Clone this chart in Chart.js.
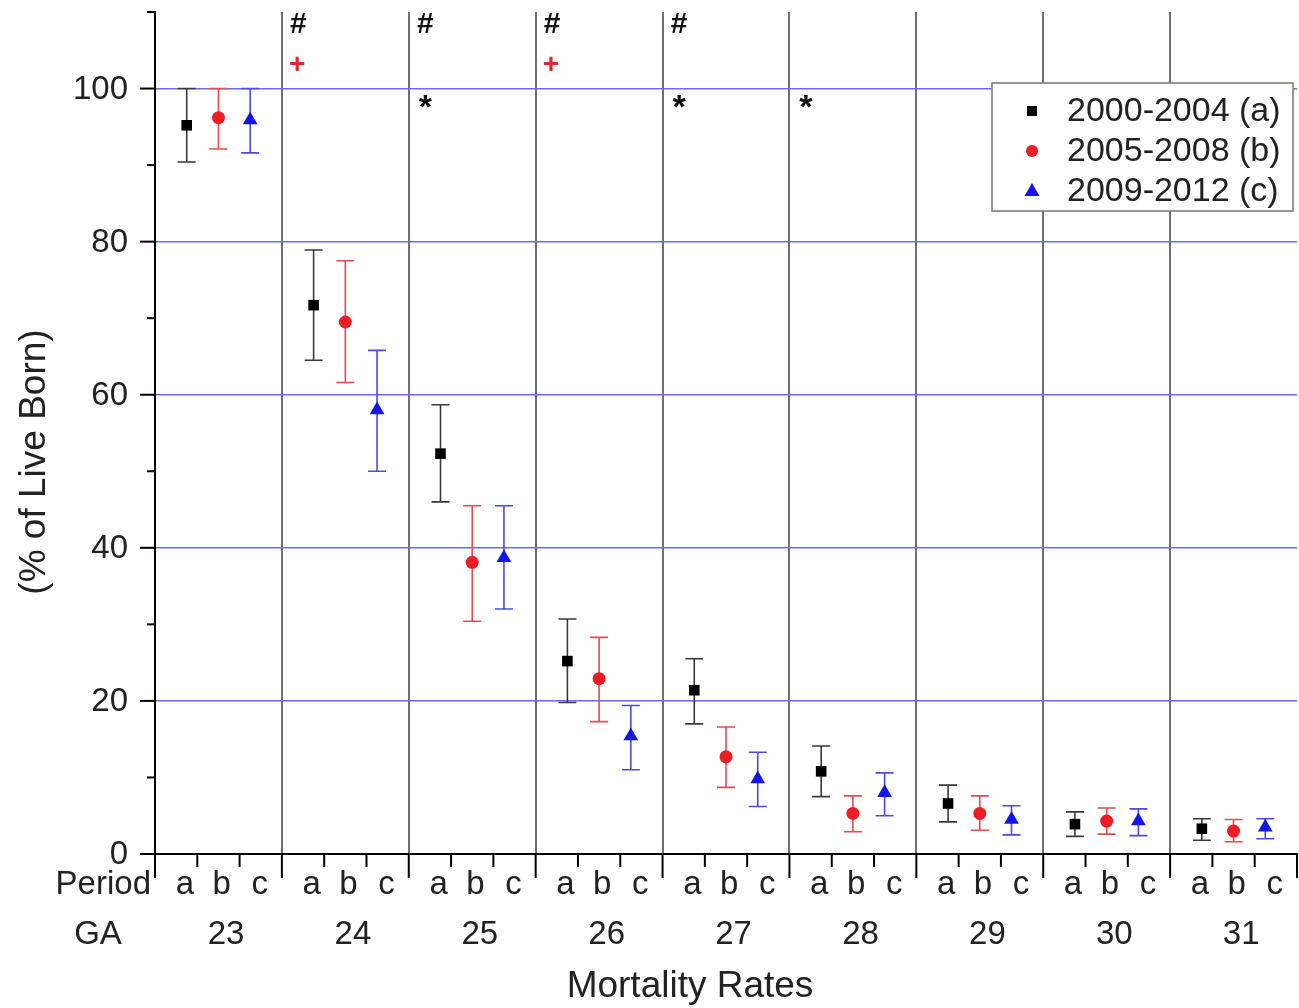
<!DOCTYPE html>
<html>
<head>
<meta charset="utf-8">
<script src="https://cdn.jsdelivr.net/npm/chart.js@4.4.1/dist/chart.umd.min.js"></script>
<style>
  html, body { margin: 0; padding: 0; background: #fff; }
  #wrap { width: 1299px; height: 1008px; }
  canvas { display: block; }
</style>
</head>
<body>
<div id="wrap"><canvas id="myChart" width="1299" height="1008"></canvas></div>
<script>
// data
const gaGroups = ['23', '24', '25', '26', '27', '28', '29', '30', '31'];
const periodLetters = ['a', 'b', 'c'];
const seriesNames = ['2000-2004 (a)', '2005-2008 (b)', '2009-2012 (c)'];

const meanA = [95.2, 71.7, 52.3, 25.2, 21.4, 10.8, 6.6, 3.9, 3.3];
const lowA  = [90.4, 64.5, 46.0, 19.8, 17.0, 7.5, 4.2, 2.3, 1.8];
const highA = [100, 78.9, 58.7, 30.7, 25.5, 14.1, 9.0, 5.5, 4.6];

const meanB = [96.2, 69.5, 38.1, 22.9, 12.7, 5.3, 5.3, 4.3, 3.0];
const lowB  = [92.1, 61.6, 30.4, 17.3, 8.7, 2.9, 3.1, 2.6, 1.6];
const highB = [100, 77.5, 45.5, 28.3, 16.6, 7.6, 7.6, 6.0, 4.5];

const meanC = [95.9, 58.0, 38.7, 15.4, 9.8, 8.0, 4.5, 4.3, 3.5];
const lowC  = [91.6, 50.0, 32.0, 11.0, 6.2, 5.0, 2.5, 2.4, 2.0];
const highC = [100, 65.8, 45.5, 19.4, 13.3, 10.6, 6.3, 5.9, 4.6];

const yTickLabels = [0, 20, 40, 60, 80, 100];

// significance marks per GA group
const hashGroups = ['24', '25', '26', '27'];
const plusGroups = ['24', '26'];
const starGroups = ['25', '27', '28'];

const FONT = "'Liberation Sans', Arial, sans-serif";
const TEXT = '#222';

function buildPoints(mean, low, high, offset) {
  return mean.map(function (v, i) {
    return { x: i + offset, y: v, lo: low[i], hi: high[i] };
  });
}

const errorBars = {
  id: 'errorBars',
  beforeDatasetsDraw(chart) {
    const ctx = chart.ctx;
    const xs = chart.scales.x, ys = chart.scales.y;
    chart.data.datasets.forEach(function (ds) {
      ctx.save();
      ctx.strokeStyle = ds.barColor;
      ctx.lineWidth = 1.6;
      ds.data.forEach(function (p) {
        const px = xs.getPixelForValue(p.x);
        const top = ys.getPixelForValue(p.hi);
        const bot = ys.getPixelForValue(p.lo);
        ctx.beginPath();
        ctx.moveTo(px, top); ctx.lineTo(px, bot);
        ctx.moveTo(px - 9, top); ctx.lineTo(px + 9, top);
        ctx.moveTo(px - 9, bot); ctx.lineTo(px + 9, bot);
        ctx.stroke();
      });
      ctx.restore();
    });
  }
};

function drawMarker(ctx, style, color, x, y) {
  ctx.fillStyle = color;
  ctx.beginPath();
  if (style === 'rect') {
    ctx.rect(x - 5, y - 5, 10, 10);
  } else if (style === 'circle') {
    ctx.arc(x, y, 6, 0, Math.PI * 2);
  } else {
    ctx.moveTo(x, y - 8);
    ctx.lineTo(x + 7.5, y + 5);
    ctx.lineTo(x - 7.5, y + 5);
    ctx.closePath();
  }
  ctx.fill();
}

const axisDecor = {
  id: 'axisDecor',
  afterDraw(chart) {
    const ctx = chart.ctx;
    const xs = chart.scales.x, ys = chart.scales.y;
    const area = chart.chartArea;
    ctx.save();

    // y ticks + labels
    ctx.strokeStyle = '#000';
    ctx.lineWidth = 2;
    for (let v = 0; v <= 110; v += 10) {
      const py = ys.getPixelForValue(v);
      const len = v % 20 === 0 ? 15 : 8;
      ctx.beginPath();
      ctx.moveTo(area.left - len, py);
      ctx.lineTo(area.left, py);
      ctx.stroke();
    }
    ctx.fillStyle = TEXT;
    ctx.font = '33px ' + FONT;
    ctx.textAlign = 'right';
    ctx.textBaseline = 'middle';
    yTickLabels.forEach(function (v) {
      ctx.fillText(String(v), 128, ys.getPixelForValue(v) + 1);
    });

    // x ticks: major at group edges, minor at thirds
    for (let g = 0; g <= gaGroups.length; g++) {
      let px = xs.getPixelForValue(g);
      ctx.beginPath();
      ctx.moveTo(px, area.bottom);
      ctx.lineTo(px, area.bottom + 24);
      ctx.stroke();
      if (g < gaGroups.length) {
        [1 / 3, 2 / 3].forEach(function (f) {
          px = xs.getPixelForValue(g + f);
          ctx.beginPath();
          ctx.moveTo(px, area.bottom);
          ctx.lineTo(px, area.bottom + 13);
          ctx.stroke();
        });
      }
    }

    // period letters and GA numbers
    const letterPos = [0.235, 0.525, 0.825];
    ctx.textAlign = 'center';
    gaGroups.forEach(function (ga, g) {
      periodLetters.forEach(function (l, j) {
        ctx.fillText(l, xs.getPixelForValue(g + letterPos[j]), 885);
      });
      ctx.fillText(ga, xs.getPixelForValue(g + 0.56), 935);
    });
    ctx.textAlign = 'right';
    ctx.fillText('Period', 151, 885);
    ctx.textAlign = 'center';
    ctx.fillText('GA', 98, 935);

    // axis titles
    ctx.font = '37px ' + FONT;
    ctx.fillText('Mortality Rates', 690, 987);
    ctx.save();
    ctx.translate(35, 462);
    ctx.rotate(-Math.PI / 2);
    ctx.fillText('(% of Live Born)', 0, 0);
    ctx.restore();

    // significance marks
    ctx.textAlign = 'center';
    ctx.textBaseline = 'alphabetic';
    ctx.font = 'bold 30px ' + FONT;
    ctx.fillStyle = '#111';
    hashGroups.forEach(function (ga) {
      const g = gaGroups.indexOf(ga);
      ctx.fillText('#', xs.getPixelForValue(g + 0.13), ys.getPixelForValue(108.5) + 10);
    });
    ctx.font = 'bold 34px ' + FONT;
    starGroups.forEach(function (ga) {
      const g = gaGroups.indexOf(ga);
      ctx.fillText('*', xs.getPixelForValue(g + 0.13), ys.getPixelForValue(98.6) + 19);
    });
    ctx.font = 'bold 28px ' + FONT;
    ctx.fillStyle = '#e8232b';
    plusGroups.forEach(function (ga) {
      const g = gaGroups.indexOf(ga);
      ctx.fillText('+', xs.getPixelForValue(g + 0.12), ys.getPixelForValue(103.3) + 10);
    });

    // legend box
    ctx.fillStyle = '#fff';
    ctx.fillRect(992, 83, 301, 128);
    ctx.strokeStyle = '#777';
    ctx.lineWidth = 1.5;
    ctx.strokeRect(992, 83, 301, 128);
    ctx.font = '34px ' + FONT;
    ctx.textAlign = 'left';
    ctx.textBaseline = 'middle';
    chart.data.datasets.forEach(function (ds, i) {
      const ry = 111 + i * 40;
      drawMarker(ctx, ds.pointStyle, ds.backgroundColor, 1032, ry);
      ctx.fillStyle = TEXT;
      ctx.fillText(ds.label, 1067, ry + 1);
    });

    ctx.restore();
  }
};

const ctx = document.getElementById('myChart').getContext('2d');
const myChart = new Chart(ctx, {
  type: 'scatter',
  data: {
    datasets: [
      {
        label: seriesNames[0],
        data: buildPoints(meanA, lowA, highA, 0.25),
        pointStyle: 'rect',
        pointRadius: 7.5,
        backgroundColor: '#000',
        borderColor: '#000',
        borderWidth: 0,
        barColor: '#3a3a3a'
      },
      {
        label: seriesNames[1],
        data: buildPoints(meanB, lowB, highB, 0.5),
        pointStyle: 'circle',
        pointRadius: 6.5,
        backgroundColor: '#ee1c25',
        borderColor: '#ee1c25',
        borderWidth: 0,
        barColor: '#e84a4f'
      },
      {
        label: seriesNames[2],
        data: buildPoints(meanC, lowC, highC, 0.75),
        pointStyle: 'triangle',
        pointRadius: 8.5,
        backgroundColor: '#1414ee',
        borderColor: '#1414ee',
        borderWidth: 0,
        barColor: '#4a4ae8'
      }
    ]
  },
  options: {
    responsive: false,
    animation: false,
    layout: { autoPadding: false, padding: { top: 12, right: 2, left: 0, bottom: 0 } },
    plugins: {
      legend: { display: false },
      tooltip: { enabled: false }
    },
    scales: {
      x: {
        type: 'linear',
        min: 0,
        max: gaGroups.length,
        ticks: { display: false, stepSize: 1 },
        grid: {
          drawTicks: false,
          lineWidth: 2,
          color: function (c) {
            const v = c.tick && c.tick.value;
            return v > 0 && v < gaGroups.length ? '#707070' : 'rgba(0,0,0,0)';
          }
        },
        border: { color: '#000', width: 2 },
        afterFit: function (s) { s.height = 154; }
      },
      y: {
        min: 0,
        max: 110,
        ticks: { display: false, stepSize: 10 },
        grid: {
          drawTicks: false,
          lineWidth: 1.5,
          color: function (c) {
            const v = c.tick && c.tick.value;
            return v > 0 && v <= 100 && v % 20 === 0 ? '#6a6af0' : 'rgba(0,0,0,0)';
          }
        },
        border: { color: '#000', width: 2 },
        afterFit: function (s) { s.width = 155; }
      }
    }
  },
  plugins: [errorBars, axisDecor]
});
</script>
</body>
</html>
